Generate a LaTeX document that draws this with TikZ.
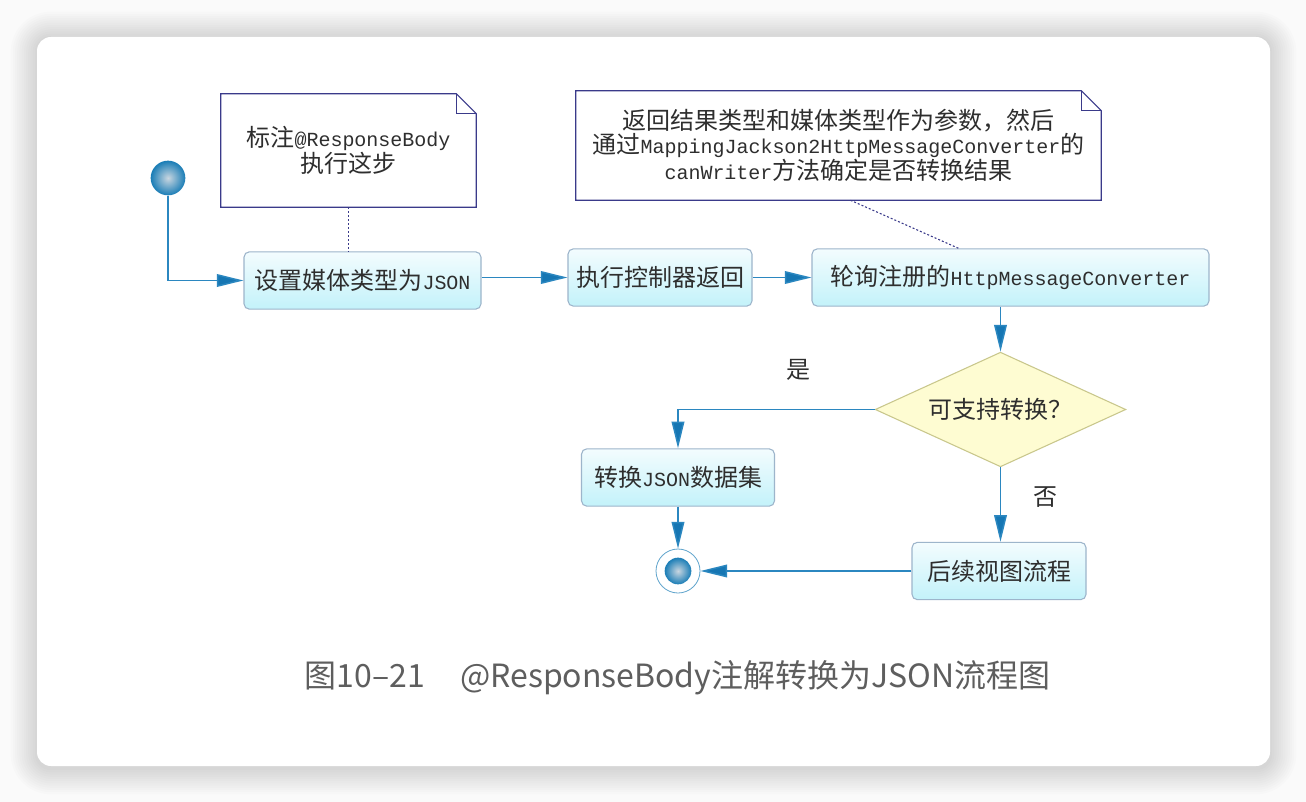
\documentclass[tikz,border=0pt]{standalone}
\usepackage{fontspec}
\setmainfont{Noto Sans CJK SC}
\newfontfamily\mono[Scale=0.833]{Liberation Mono}
\usepackage{xcolor}
\usetikzlibrary{shapes.geometric, arrows.meta, calc}
\definecolor{flowblue}{HTML}{2B87C0}
\definecolor{tipblue}{HTML}{1676B3}
\definecolor{boxedge}{HTML}{9DB5CB}
\definecolor{boxtop}{HTML}{F3FCFE}
\definecolor{boxbottom}{HTML}{C3F2FA}
\definecolor{notenavy}{HTML}{3A3A8A}
\definecolor{choicefill}{HTML}{FEFCD2}
\definecolor{choiceedge}{HTML}{C9C78C}
\definecolor{ballblue}{HTML}{1A7DB6}
\definecolor{ballcore}{HTML}{C9D6E0}
\definecolor{captiongray}{HTML}{5E5E5E}
\definecolor{textgray}{HTML}{2E2E2E}
\tikzset{
  flow/.style={draw=flowblue, line width=1.1pt,
    -{Triangle[length=20pt, width=9.5pt, fill=tipblue]}},
  action/.style={draw=boxedge, line width=0.8pt, rounded corners=4pt,
    top color=boxtop, bottom color=boxbottom, minimum height=43pt,
    inner sep=0pt, text=textgray, font=\fontsize{18}{18}\selectfont},
  notebox/.style={inner sep=0pt, align=center, text=textgray,
    font=\fontsize{18}{18}\selectfont},
  noteline/.style={draw=notenavy, line width=0.8pt},
  notelink/.style={draw=notenavy, line width=0.8pt, dash pattern=on 1.5pt off 1.5pt},
  choice/.style={diamond, aspect=2.2, draw=choiceedge, line width=0.8pt,
    fill=choicefill, inner sep=0pt, minimum width=188pt, minimum height=86pt,
    text=textgray, font=\fontsize{18}{18}\selectfont},
  ball/.style={circle, inner sep=0pt, minimum size=26pt,
    inner color=ballcore, outer color=ballblue},
  ring/.style={circle, draw=ballblue!70, line width=0.6pt, fill=white,
    minimum size=33pt, inner sep=0pt},
  branch/.style={text=textgray, font=\fontsize{18}{18}\selectfont},
}

\begin{document}
\begin{tikzpicture}[x=0.75pt, y=-0.75pt]
\fill[white!98!black] (0,0) rectangle (1306,802);
\foreach \s in {1,...,12} {
    \pgfmathsetmacro{\d}{2.2*\s}
    \fill[black, opacity=0.013, rounded corners={10.5pt+\d*0.75pt}]
        ({37-\d},{37-\d+1}) rectangle ({1270+\d},{766+\d+2});
}
\fill[white, rounded corners=10.5pt] (37,37) rectangle (1270,766);
\useasboundingbox (0,0) rectangle (1306,802);

\node[ball] (start) at (168,178) {};
\foreach \n/\x/\y/\w/\txt in {
    setjson/362.5/280.5/177.75/{设置媒体类型为{\mono JSON}},
    invoke/660/277.5/138/{执行控制器返回},
    poll/1010.5/277.5/297.75/{轮询注册的{\mono HttpMessageConverter}},
    convert/678/477.5/144.75/{转换{\mono JSON}数据集},
    later/999/571/130.5/{后续视图流程}} {
    \node[action, minimum width=\w pt] (\n) at (\x,\y) {\txt};
}
\node[choice] (check) at (1000.5,409.5) {可支持转换？};
\node[ring] (stop) at (678,571) {};
\node[ball, minimum size=20pt] (stopdot) at (stop) {};

\node[notebox, minimum width=191.25pt, minimum height=84.75pt] (annot) at (348.5,150.5)
    {标注{\mono @ResponseBody}\\执行这步};
\node[notebox, minimum width=393.75pt, minimum height=81.75pt] (hint) at (838.5,145.5)
    {返回结果类型和媒体类型作为参数，然后\\通过{\mono MappingJackson2HttpMessageConverter}的\\{\mono canWriter}方法确定是否转换结果};
\foreach \n in {annot,hint} {
    \draw[noteline] (\n.south west) -- (\n.north west) -- ($(\n.north east)+(-20,0)$)
        -- ($(\n.north east)+(0,20)$) -- (\n.south east) -- cycle;
    \draw[noteline] ($(\n.north east)+(-20,0)$) -- ++(0,20) -- ($(\n.north east)+(0,20)$);
}
\draw[notelink] (annot.south) -- (annot.south |- setjson.north);
\draw[notelink] ($(hint.south)+(12,0)$) -- ($(poll.north)+(-52,0)$);

\draw[flow] (start) |- (setjson);
\draw[flow] (setjson.east |- invoke) -- (invoke);
\draw[flow] (invoke) -- (poll);
\draw[flow] (check.north |- poll.south) -- (check.north);
\draw[flow] (check.west) -| (convert.north);
\draw[flow] (convert) -- (stop);
\draw[flow] (check.south) -- (check.south |- later.north);
\draw[flow] (later) -- (stop);
\node[branch] (yes) at (798,370) {是};
\node[branch] (no) at (1045,497) {否};

\node[font=\fontsize{24}{24}\selectfont, text=captiongray, anchor=west] (caption) at (300,678)
    {图10–21\hspace{1.1em}@ResponseBody注解转换为JSON流程图};
\end{tikzpicture}
\end{document}
